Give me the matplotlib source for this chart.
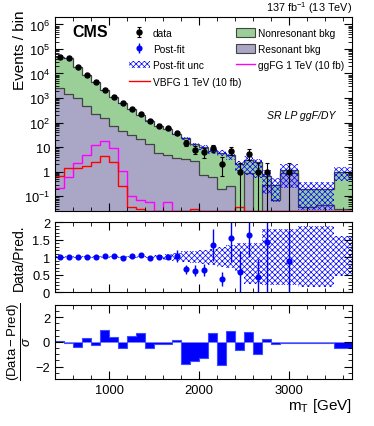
import numpy as np
import matplotlib
matplotlib.use("Agg")
import matplotlib.pyplot as plt
from matplotlib.ticker import LogLocator, MultipleLocator, FuncFormatter, NullFormatter, FixedLocator
from matplotlib.lines import Line2D
from matplotlib.patches import Patch

plt.rcParams['font.family'] = ['Liberation Sans', 'DejaVu Sans']
plt.rcParams['mathtext.fontset'] = 'custom'
plt.rcParams['mathtext.rm'] = 'Liberation Sans'
plt.rcParams['mathtext.it'] = 'Liberation Sans:italic'
plt.rcParams['mathtext.bf'] = 'Liberation Sans:bold'
plt.rcParams['hatch.linewidth'] = 0.5

# bin edges (GeV): 100 GeV bins up to 2900, then wider ones
edges = np.array(list(range(400, 3000, 100)) + [3100, 3300, 3500, 3700])

# observed data per bin
data = np.array([48000, 41000, 19000, 8800, 4300, 2100, 1100, 600, 350, 215,
                 115, 75, 58, 36, 15, 8, 6.2, 9.3, 2.1, 7.2,
                 1, 5.2, 1, 1, 0, 1, 0, 0, 0])
data_err_lo = np.array([220, 200, 140, 94, 66, 46, 33, 24, 19, 15,
                        11, 9, 8, 6, 4, 2.8, 2.5, 3, 1.45, 2.6,
                        0.99, 2.2, 0.99, 0.99, 0, 0.99, 0, 0, 0])
data_err_hi = np.array([220, 200, 140, 94, 66, 46, 33, 24, 19, 15,
                        11, 9, 8, 6, 4.5, 3.2, 3.0, 3.5, 2.0, 3.2,
                        1.3, 3.0, 1.3, 1.3, 0, 1.3, 0, 0, 0])

# post-fit stack: total (nonres + res) and resonant part
total = np.array([48000, 41000, 19000, 8800, 4300, 2040, 1080, 610, 345, 205,
                  117, 75, 57, 35, 23, 13, 9.8, 6.9, 5.8, 4.6,
                  2.0, 3.1, 2.4, 0.65, 0.3, 1.15, 0.2, 0.2, 0.95])
resonant = np.array([2600, 1500, 1000, 470, 215, 155, 75, 44, 32, 22,
                     14, 5.8, 4.7, 3.7, 3.2, 2.6, 0.7, 0.6, 0.19, 0.25,
                     0, 0.9, 0, 0.3, 0.07, 0.9, 0.035, 0.045, 0.03])

# relative post-fit uncertainty band
band_hi = np.array([1.02, 1.02, 1.02, 1.02, 1.02, 1.02, 1.02, 1.02, 1.02, 1.03,
                    1.04, 1.06, 1.08, 1.12, 1.16, 1.18, 1.2, 1.24, 1.3, 1.35,
                    1.40, 1.40, 1.40, 1.80, 1.80, 1.80, 1.90, 1.90, 1.59])
band_lo = np.array([0.98, 0.98, 0.98, 0.98, 0.98, 0.98, 0.98, 0.98, 0.98, 0.97,
                    0.96, 0.94, 0.92, 0.89, 0.85, 0.83, 0.8, 0.77, 0.72, 0.68,
                    0.53, 0.24, 0.24, 0.19, 0.19, 0.19, 0.14, 0.14, 0.45])

# signals (10 fb)
ggfg = np.array([0.22, 0.6, 2.3, 4.7, 12, 18.5, 9.3, 1.1, 0.1, 0.07,
                 0.06, 0, 0.06, 0, 0, 0, 0, 0, 0, 0,
                 0, 0, 0, 0, 0, 0, 0, 0, 0])
vbfg = np.array([0.64, 1.45, 1.35, 1.65, 2.4, 4.2, 2.5, 0.25, 0.035, 0.03,
                 0, 0, 0, 0, 0, 0.03, 0, 0, 0, 0,
                 0.037, 0, 0, 0, 0, 0, 0, 0, 0])

# data / prediction
ratio = np.array([1.0, 1.0, 1.0, 1.0, 1.0, 1.03, 1.02, 0.98, 1.02, 1.05,
                  0.97, 1.0, 1.01, 1.04, 0.65, 0.61, 0.63, 1.35, 0.36, 1.55,
                  0.57, 1.64, 0.44, 1.42, np.nan, 0.88, np.nan, np.nan, np.nan])
ratio_err = np.array([0.005, 0.005, 0.007, 0.01, 0.015, 0.02, 0.03, 0.035, 0.04, 0.05,
                      0.05, 0.06, 0.07, 0.17, 0.13, 0.15, 0.17, 0.45, 0.2, 0.7,
                      0.6, 0.65, 0.5, 1.5, 0, 0.9, 0, 0, 0])

# (data - pred) / sigma
pull = np.array([0.1, -0.08, -0.4, 0.32, -0.27, 1.0, 0.4, -0.5, 0.46, 0.76,
                 -0.49, -0.14, -0.18, 0.2, -1.75, -1.53, -1.3, 0.76, -1.84, 0.86,
                 -0.62, 0.81, -1.0, 0.27, -0.13, -0.05, -0.05, -0.05, -0.5])

green = '#9bcf98'
purple = '#a9a6c6'
edge = '#444444'
ymin, ymax = 0.025, 2e6
centers = 0.5 * (edges[:-1] + edges[1:])

fig = plt.figure(figsize=(3.74, 4.27), dpi=100)
ax1 = fig.add_axes([0.1471, 0.5035, 0.7941, 0.4543])
ax2 = fig.add_axes([0.1471, 0.3138, 0.7941, 0.1639], sharex=ax1)
ax3 = fig.add_axes([0.1471, 0.1101, 0.7941, 0.1733], sharex=ax1)


def style(ax):
    ax.tick_params(which='both', direction='in', top=True, right=True, labelsize=9.3)
    ax.tick_params(which='major', length=6, width=0.8)
    ax.tick_params(which='minor', length=3, width=0.6)
    ax.xaxis.set_major_locator(MultipleLocator(1000))
    ax.xaxis.set_minor_locator(MultipleLocator(200))
    for s in ax.spines.values():
        s.set_linewidth(0.8)


# ---- main panel
ax1.set_yscale('log')
tot_d = np.where(total > 0, total, 1e-4)
res_d = np.where(resonant > 0, resonant, 1e-4)
ax1.stairs(tot_d, edges, baseline=1e-4, fill=True, color=green, lw=0)
ax1.stairs(tot_d, edges, baseline=None, color=edge, lw=0.9)
ax1.stairs(res_d, edges, baseline=1e-4, fill=True, color=purple, lw=0)
ax1.stairs(res_d, edges, baseline=None, color=edge, lw=0.9)
ax1.stairs(total * band_hi, edges, baseline=total * band_lo, fill=True,
           facecolor='none', edgecolor='blue', hatch='xxxxxx', lw=0)
ax1.stairs(np.maximum(ggfg, ymin * 1.02), edges, baseline=None, color='#ff00ff', lw=1.0)
ax1.stairs(np.maximum(vbfg, ymin * 1.02), edges, baseline=None, color='#ff0000', lw=1.0)

m = data > 0
hdata = ax1.errorbar(centers[m], data[m], yerr=[data_err_lo[m], data_err_hi[m]],
                     fmt='o', color='black', ms=3.6, lw=0.8, capsize=1.5, capthick=0.8)
ax1.set_xlim(edges[0], edges[-1])
ax1.set_ylim(ymin, ymax)
style(ax1)
ax1.yaxis.set_major_locator(LogLocator(base=10, numticks=20))
ax1.yaxis.set_minor_locator(LogLocator(base=10, subs=np.arange(2, 10), numticks=200))
ax1.yaxis.set_minor_formatter(NullFormatter())


def logfmt(v, pos):
    e = int(round(np.log10(v)))
    if e == 0:
        return '1'
    if e == 1:
        return '10'
    return r'$10^{%d}$' % e


ax1.yaxis.set_major_formatter(FuncFormatter(logfmt))
ax1.tick_params(labelbottom=False)

ax1.text(0.06, 0.965, 'CMS', transform=ax1.transAxes, fontsize=11.5,
         fontweight='bold', ha='left', va='top')
ax1.text(1.0, 1.008, r'137 fb$^{-1}$ (13 TeV)', transform=ax1.transAxes,
         fontsize=7.8, ha='right', va='bottom')
ax1.text(0.943, 0.495, 'SR LP ggF/DY', transform=ax1.transAxes, fontsize=7.6,
         style='italic', ha='right', va='center')

# ---- ratio panel
ax2.stairs(band_hi, edges, baseline=band_lo, fill=True, facecolor='none',
           edgecolor='blue', hatch='xxxxxx', lw=0)
mr = ~np.isnan(ratio)
hpost = ax2.errorbar(centers[mr], ratio[mr], yerr=ratio_err[mr], fmt='o',
                     color='blue', ms=3.4, lw=1.0, capsize=0)
ax2.set_ylim(0, 2)
style(ax2)
ax2.yaxis.set_major_locator(FixedLocator([0, 0.5, 1, 1.5, 2]))
ax2.yaxis.set_minor_locator(MultipleLocator(0.1))
ax2.yaxis.set_major_formatter(FuncFormatter(lambda v, p: '%g' % v))
ax2.tick_params(labelbottom=False)

# ---- pull panel
ax3.stairs(pull, edges, baseline=0, fill=True, facecolor='blue',
           edgecolor='#3b4dff', lw=0.8)
ax3.set_ylim(-3, 3)
style(ax3)
ax3.yaxis.set_major_locator(FixedLocator([-2, 0, 2]))
ax3.yaxis.set_minor_locator(MultipleLocator(0.5))
ax3.yaxis.set_major_formatter(FuncFormatter(lambda v, p: ('%g' % v).replace('-', '\u2212')))
ax3.set_xlim(edges[0], edges[-1])

# ---- axis titles
fig.text(20 / 374, 1 - 10 / 427, 'Events / bin', rotation=90, ha='center',
         va='top', fontsize=11)
fig.text(19 / 374, 1 - 258 / 427, 'Data/Pred.', rotation=90, ha='center',
         va='center', fontsize=10)
fig.text(19 / 374, 1 - 342 / 427, r'$\dfrac{\mathrm{(Data-Pred)}}{\sigma}$',
         rotation=90, ha='center', va='center', fontsize=9.5)
fig.text(352 / 374, 1 - 406 / 427, r'm$_\mathrm{T}$ [GeV]', ha='right',
         va='center', fontsize=11)

# ---- legends
unc = Patch(facecolor='none', edgecolor='blue', hatch='xxxxxx', lw=0)
leg1 = ax1.legend([hdata, hpost, unc, Line2D([], [], color='#ff0000', lw=1.0)],
                  ['data', 'Post-fit', 'Post-fit unc', 'VBFG 1 TeV (10 fb)'],
                  loc='upper left', bbox_to_anchor=(0.25, 0.945), frameon=False,
                  fontsize=7.3, borderpad=0, borderaxespad=0, handlelength=2.0,
                  handletextpad=0.35, labelspacing=0.62)
ax1.add_artist(leg1)
ax1.legend([Patch(facecolor=green, edgecolor=edge, lw=0.8),
            Patch(facecolor=purple, edgecolor=edge, lw=0.8),
            Line2D([], [], color='#ff00ff', lw=1.0)],
           ['Nonresonant bkg', 'Resonant bkg', 'ggFG 1 TeV (10 fb)'],
           loc='upper left', bbox_to_anchor=(0.61, 0.945), frameon=False,
           fontsize=7.3, borderpad=0, borderaxespad=0, handlelength=1.9,
           handleheight=1.0, handletextpad=0.3, labelspacing=0.62)

fig.savefig('out.png', dpi=100)
